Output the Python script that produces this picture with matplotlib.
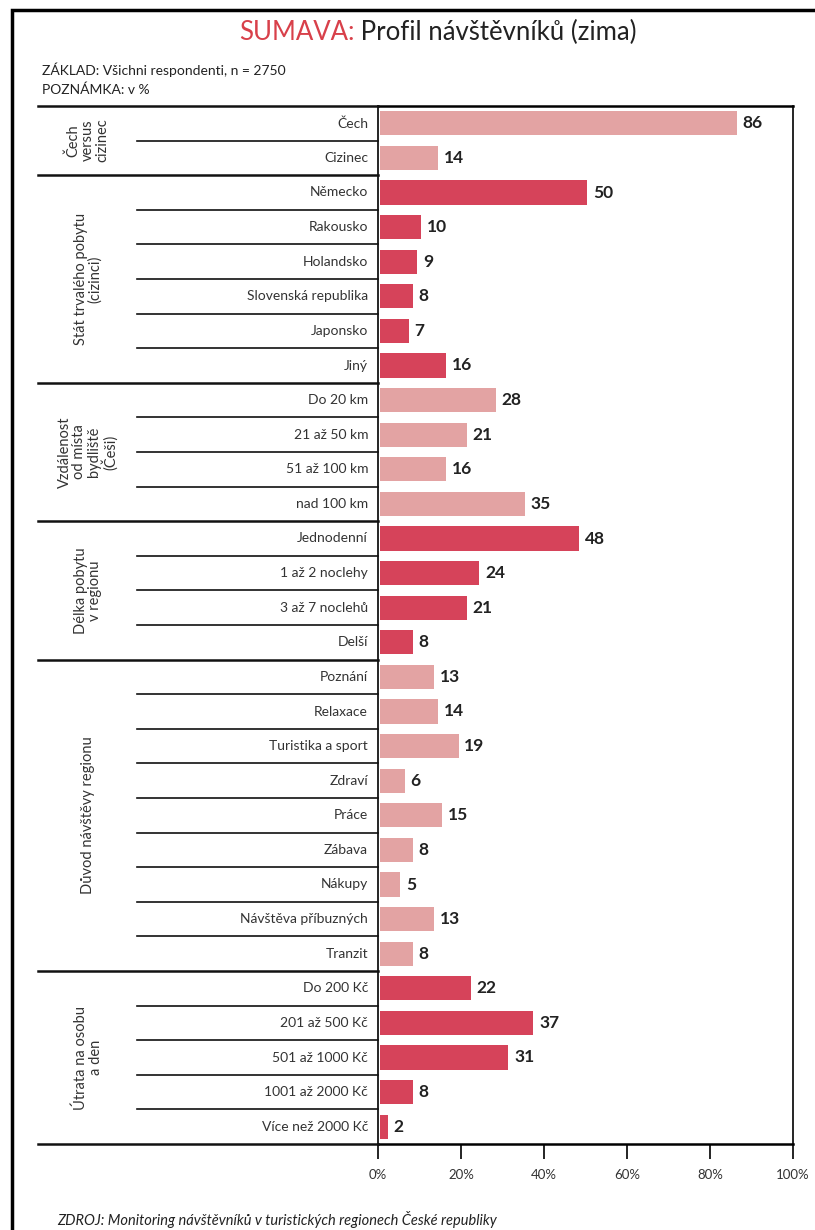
import matplotlib
matplotlib.use("Agg")
import matplotlib.pyplot as plt
import numpy as np

# Data
groups = [
    "Čech\nversus\ncizinec",
    "Stát trvalého pobytu\n(cizinci)",
    "Vzdálenost\nod místa\nbydliště\n(Češi)",
    "Délka pobytu\nv regionu",
    "Důvod návštěvy regionu",
    "Útrata na osobu\na den",
]
group_items = [
    ["Čech", "Cizinec"],
    ["Německo", "Rakousko", "Holandsko", "Slovenská republika", "Japonsko", "Jiný"],
    ["Do 20 km", "21 až 50 km", "51 až 100 km", "nad 100 km"],
    ["Jednodenní", "1 až 2 noclehy", "3 až 7 noclehů", "Delší"],
    ["Poznání", "Relaxace", "Turistika a sport", "Zdraví", "Práce", "Zábava",
     "Nákupy", "Návštěva příbuzných", "Tranzit"],
    ["Do 200 Kč", "201 až 500 Kč", "501 až 1000 Kč", "1001 až 2000 Kč", "Více než 2000 Kč"],
]
group_values = [
    [86, 14],
    [50, 10, 9, 8, 7, 16],
    [28, 21, 16, 35],
    [48, 24, 21, 8],
    [13, 14, 19, 6, 15, 8, 5, 13, 8],
    [22, 37, 31, 8, 2],
]
ticks = [0, 20, 40, 60, 80, 100]

light = "#e3a3a3"
dark = "#d6435a"
group_colors = [light, dark, light, dark, light, dark]

plt.rcParams["font.family"] = ["Lato", "DejaVu Sans"]

W, H = 815, 1230
fig = plt.figure(figsize=(W / 100, H / 100), dpi=100)

# pixel layout
x_lab0, x_sep0, x_axis, x_right = 38, 137, 378, 793
y_top, y_bot = 106, 1144

def fx(px):
    return px / W

def fy(py):
    return 1 - py / H

ax = fig.add_axes([fx(x_axis), fy(y_bot), fx(x_right) - fx(x_axis), fy(y_top) - fy(y_bot)])
axl = fig.add_axes([fx(x_lab0), fy(y_bot), fx(x_axis) - fx(x_lab0), fy(y_top) - fy(y_bot)])

labels = [c for g in group_items for c in g]
values = [v for g in group_values for v in g]
colors = [group_colors[i] for i, g in enumerate(group_items) for _ in g]
n = len(labels)
y = np.arange(n)

ax.barh(y, values, height=0.7, color=colors, left=0.4)
for yi, v in zip(y, values):
    ax.text(v + 1.8, yi, str(v), va="center", ha="left", fontsize=12.5,
            fontweight="bold", color="#222222")

ax.set_xlim(0, 100)
ax.set_ylim(n - 0.5, -0.5)
ax.set_yticks([])
ax.set_xticks(ticks)
ax.set_xticklabels([f"{t}%" for t in ticks], fontsize=9.5, color="#333333")
ax.tick_params(axis="x", length=11, width=1.2, pad=7)
for s in ["left", "right"]:
    ax.spines[s].set_linewidth(1.2)
ax.spines["top"].set_linewidth(1.8)
ax.spines["bottom"].set_linewidth(1.8)

# label area
axl.set_xlim(x_lab0, x_axis)
axl.set_ylim(n - 0.5, -0.5)
axl.axis("off")
start = 0
for gi, (gname, items) in enumerate(zip(groups, group_items)):
    for k, item in enumerate(items):
        axl.text(x_axis - 10, start + k, item, ha="right", va="center",
                 fontsize=10, color="#333333")
        if k > 0:
            axl.plot([x_sep0, x_axis], [start + k - 0.5] * 2, color="#111111", lw=1.2,
                     clip_on=False)
    axl.plot([x_lab0, x_axis], [start - 0.5] * 2, color="#111111", lw=1.8, clip_on=False)
    axl.text(88, start + (len(items) - 1) / 2, gname, rotation=90, ha="center",
             va="center", fontsize=10.5, color="#333333", linespacing=1.05,
             multialignment="center")
    start += len(items)
axl.plot([x_lab0, x_axis], [n - 0.5] * 2, color="#111111", lw=1.8, clip_on=False)

# outer frame
frame = plt.Rectangle((fx(12), -0.1), 1.2, fy(10) + 0.1, transform=fig.transFigure,
                      fill=False, lw=2.5, ec="black")
fig.patches.append(frame)

# title in two colours
fig.canvas.draw()
renderer = fig.canvas.get_renderer()
t1 = fig.text(0, fy(32), "SUMAVA:", fontsize=18.5, color="#d8404a", va="center", ha="left")
t2 = fig.text(0, fy(32), " Profil návštěvníků (zima)", fontsize=18.5, color="#222222",
              va="center", ha="left")
w1 = t1.get_window_extent(renderer).width
w2 = t2.get_window_extent(renderer).width
x0 = 438 - (w1 + w2) / 2
t1.set_x(fx(x0))
t2.set_x(fx(x0 + w1))

fig.text(fx(42), fy(70), "ZÁKLAD: Všichni respondenti, n = 2750", fontsize=10,
         color="#222222", va="center")
fig.text(fx(42), fy(90), "POZNÁMKA: v %", fontsize=10, color="#222222", va="center")
fig.text(fx(57), fy(1219), "ZDROJ: Monitoring návštěvníků v turistických regionech České republiky",
         fontsize=10.5, style="italic", color="#222222", va="center")

fig.savefig("out.png", dpi=100)
